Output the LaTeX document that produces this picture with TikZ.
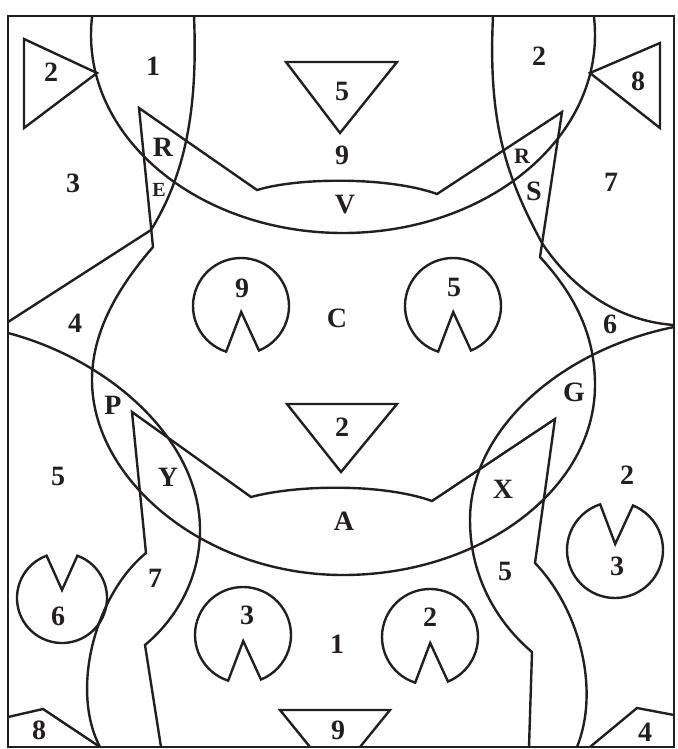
\documentclass[tikz,border=0pt]{standalone}
\usepackage{fontspec}
\setmainfont{Liberation Serif}
\usetikzlibrary{calc}
\definecolor{cink}{HTML}{231F20}
\tikzset{
  every picture/.style={line width=2.4pt, line join=miter},
  outline/.style={draw=cink, line width=2.4pt},
  lbl/.style={font=\bfseries\fontsize{28}{30}\selectfont, text=cink, inner sep=0pt},
  smalllbl/.style={font=\bfseries\fontsize{20}{22}\selectfont, text=cink, inner sep=0pt},
}
% circle with a V cut: centre x, centre y, radius, cut direction, apex shift
\newcommand{\pacman}[5]{%
  \draw[outline] ($(#1,#2)+(#4:#5)$) -- ($(#1,#2)+({#4+20}:#3)$)
    arc[start angle={#4+20}, end angle={#4+340}, radius=#3] -- cycle;}

\begin{document}
\begin{tikzpicture}[x=1pt, y=-1pt]
  \useasboundingbox (0,0) rectangle (677,749);

  % big arcs
  \begin{scope}
    \clip (8,16) rectangle (674,747);
    \draw[outline] (343,35) ellipse [x radius=252, y radius=198];
  \end{scope}
  \draw[outline] (194,16) .. controls (198,110) and (185,175) .. (151,230) -- (8,322);
  \draw[outline] (493,16) .. controls (488,120) and (505,175) .. (542,243)
    .. controls (580,300) and (630,322) .. (674,325);
  \draw[outline] (8,333) .. controls (110,360) and (200,440) .. (200,530)
    .. controls (200,580) and (175,620) .. (145,645) -- (161,747);
  \draw[outline] (674,327) .. controls (560,350) and (470,430) .. (470,520)
    .. controls (470,580) and (500,625) .. (532,652) -- (529,747);

  % head and body
  \draw[outline] (153,247) -- (139,108) -- (257,190)
    .. controls (300,177) and (390,177) .. (437,194)
    -- (562,112) -- (540,257)
    .. controls (575,295) and (595,335) .. (595,385)
    .. controls (595,490) and (480,575) .. (343,575)
    .. controls (205,575) and (92,480) .. (92,380)
    .. controls (92,330) and (120,285) .. (153,247) -- cycle;
  \draw[outline] (100,747) .. controls (70,690) and (95,595) .. (146,553)
    -- (132,412) -- (251,497)
    .. controls (300,484) and (385,484) .. (432,501)
    -- (555,419) -- (535,563)
    .. controls (580,610) and (600,690) .. (577,747);

  % triangles and corners
  \draw[outline] (24,39) -- (24,128) -- (97,73) -- cycle;
  \draw[outline] (660,43) -- (660,128) -- (590,73) -- cycle;
  \draw[outline] (286,62) -- (397,62) -- (340,133) -- cycle;
  \draw[outline] (287,404) -- (397,404) -- (341,472) -- cycle;
  \draw[outline] (310,747) -- (280,710) -- (390,710) -- (360,747);
  \draw[outline] (8,717) -- (43,709) -- (100,747);
  \draw[outline] (590,747) -- (637,708) -- (674,715);

  % cut circles
  \pacman{241}{306}{48}{88}{6}
  \pacman{453}{306}{48}{88}{6}
  \pacman{243}{635}{48}{88}{6}
  \pacman{430}{637}{48}{88}{6}
  \pacman{615}{550}{48}{-88}{6}
  \pacman{62}{598}{45}{-90}{8}

  \draw[outline] (8,16) rectangle (674,747);

  % labels
  \node[lbl] (tri2) at (51,72) {2};
  \node[lbl] (one) at (153,66) {1};
  \node[lbl] (tri5) at (342,91) {5};
  \node[lbl] (nine) at (342,155) {9};
  \node[lbl] (two) at (539,56) {2};
  \node[lbl] (tri8) at (638,81) {8};
  \node[lbl] (rL) at (163,147) {R};
  \node[smalllbl] (eL) at (159,190) {E};
  \node[lbl] (three) at (73,183) {3};
  \node[smalllbl, font=\bfseries\fontsize{22}{24}\selectfont] (rR) at (522,156) {R};
  \node[lbl] (sR) at (534,191) {S};
  \node[lbl] (seven) at (611,182) {7};
  \node[lbl] (vee) at (345,205) {V};
  \node[lbl] (four) at (75,323) {4};
  \node[lbl] (pac9) at (242,288) {9};
  \node[lbl] (cee) at (337,318) {C};
  \node[lbl] (pac5) at (454,287) {5};
  \node[lbl] (six) at (610,324) {6};
  \node[lbl] (gee) at (574,392) {G};
  \node[lbl] (pee) at (113,405) {P};
  \node[lbl] (tri2m) at (342,427) {2};
  \node[lbl] (five) at (58,476) {5};
  \node[lbl] (why) at (168,477) {Y};
  \node[lbl] (ay) at (344,521) {A};
  \node[lbl] (ex) at (503,489) {X};
  \node[lbl] (twoR) at (627,475) {2};
  \node[lbl] (sevenL) at (155,578) {7};
  \node[lbl] (fiveR) at (505,571) {5};
  \node[lbl] (pac3R) at (617,566) {3};
  \node[lbl] (pac6) at (58,616) {6};
  \node[lbl] (pac3) at (247,615) {3};
  \node[lbl] (oneB) at (337,644) {1};
  \node[lbl] (pac2) at (430,617) {2};
  \node[lbl] (eight) at (39,730) {8};
  \node[lbl] (tri9) at (338,730) {9};
  \node[lbl] (fourB) at (645,732) {4};
\end{tikzpicture}
\end{document}
